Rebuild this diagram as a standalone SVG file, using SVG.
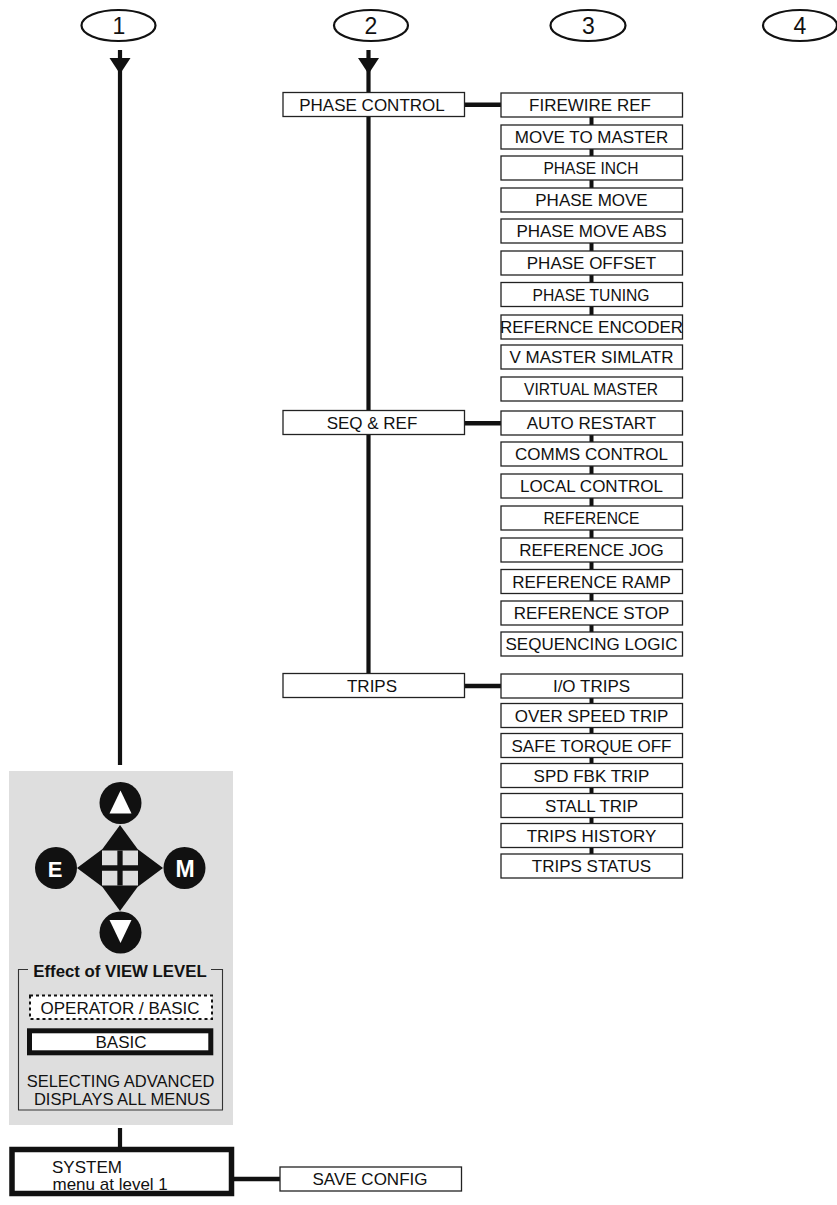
<svg xmlns="http://www.w3.org/2000/svg" xmlns:xlink="http://www.w3.org/1999/xlink" width="837" height="1205" viewBox="0 0 837 1205">
<style>
.box{fill:#fff;stroke:#222;stroke-width:1.3}
.t{font-family:"Liberation Sans",Arial,sans-serif;font-size:17px;fill:#111;text-anchor:middle}
.hd{fill:none;stroke:#111;stroke-width:2.2}
.num{font-family:"Liberation Sans",Arial,sans-serif;font-size:23px;fill:#111;text-anchor:middle}
.spine{stroke:#111;stroke-width:4.2;fill:none}
.link{stroke:#111;stroke-width:4.6;fill:none}
.small{stroke:#111;stroke-width:4;fill:none}
.key{fill:#111}
.kt{font-family:"Liberation Sans",Arial,sans-serif;font-weight:bold;fill:#fff;text-anchor:middle}
</style>
<defs>
<path id="ah" d="M-10.5,0 L10.5,0 L0,16 Z" fill="#111"/>
</defs>
<rect width="837" height="1205" fill="#fff"/>

<!-- headers -->
<g id="header1"><ellipse class="hd" cx="118.5" cy="25.5" rx="37" ry="15.5"/><text class="num" x="119" y="33.5">1</text></g>
<g id="header2"><ellipse class="hd" cx="371" cy="25.5" rx="37" ry="15.5"/><text class="num" x="371" y="33.5">2</text></g>
<g id="header3"><ellipse class="hd" cx="588" cy="25.5" rx="37.5" ry="15.5"/><text class="num" x="588.5" y="33.5">3</text></g>
<g id="header4"><ellipse class="hd" cx="800" cy="25.5" rx="37" ry="15.5"/><text class="num" x="800" y="33.5">4</text></g>

<!-- connectors -->
<g id="connectors">
  <path class="spine" d="M120,50 V765"/>
  <use xlink:href="#ah" x="120" y="58"/>
  <path class="spine" d="M368.5,50 V673.5"/>
  <use xlink:href="#ah" x="368.5" y="58"/>
  <path class="link" d="M464,104.7 H501 M464,423.3 H501 M464,686 H501 M233,1179 H280"/>
  <path class="spine" d="M120,1128 V1148"/>
  <path class="small" d="M591.5,117 V125 M591.5,149 V156 M591.5,180 V188 M591.5,243 V251 M591.5,275 V282.5 M591.5,306.5 V315 M591.5,435 V442 M591.5,466 V474 M591.5,498 V506 M591.5,530 V538 M591.5,562 V569.5 M591.5,593.5 V601 M591.5,625 V632 M591.5,698 V703.5 M591.5,727.5 V733.5 M591.5,757.5 V763.5 M591.5,787.5 V793.5 M591.5,817.5 V823.5 M591.5,847.5 V854"/>
</g>

<!-- column 2 -->
<g id="phase-control"><rect class="box" x="283" y="92.5" width="181.5" height="24"/><text class="t" x="372" y="110.8">PHASE CONTROL</text></g>
<g id="seq-ref"><rect class="box" x="283" y="410.5" width="181.5" height="24"/><text class="t" x="372" y="428.8">SEQ &amp; REF</text></g>
<g id="trips"><rect class="box" x="283" y="673.5" width="181.5" height="24"/><text class="t" x="372" y="691.8">TRIPS</text></g>

<!-- column 3 -->
<g id="firewire-ref"><rect class="box" x="501" y="93" width="181.5" height="24"/><text class="t" x="590" y="111.3">FIREWIRE REF</text></g>
<g id="move-to-master"><rect class="box" x="501" y="125" width="181.5" height="24"/><text class="t" x="591.5" y="143.3">MOVE TO MASTER</text></g>
<g id="phase-inch"><rect class="box" x="501" y="156" width="181.5" height="24"/><text class="t" x="591" y="174.3" textLength="95" lengthAdjust="spacingAndGlyphs">PHASE INCH</text></g>
<g id="phase-move"><rect class="box" x="501" y="188" width="181.5" height="24"/><text class="t" x="591.5" y="206.3">PHASE MOVE</text></g>
<g id="phase-move-abs"><rect class="box" x="501" y="219" width="181.5" height="24"/><text class="t" x="591.5" y="237.3">PHASE MOVE ABS</text></g>
<g id="phase-offset"><rect class="box" x="501" y="251" width="181.5" height="24"/><text class="t" x="591.5" y="269.3">PHASE OFFSET</text></g>
<g id="phase-tuning"><rect class="box" x="501" y="282.5" width="181.5" height="24"/><text class="t" x="591" y="300.8" textLength="117" lengthAdjust="spacingAndGlyphs">PHASE TUNING</text></g>
<g id="refernce-encoder"><rect class="box" x="501" y="315" width="181.5" height="24"/><text class="t" x="591.5" y="333.3">REFERNCE ENCODER</text></g>
<g id="v-master-simlatr"><rect class="box" x="501" y="345" width="181.5" height="24"/><text class="t" x="591.5" y="363.3">V MASTER SIMLATR</text></g>
<g id="virtual-master"><rect class="box" x="501" y="377" width="181.5" height="24"/><text class="t" x="591" y="395.3" textLength="134" lengthAdjust="spacingAndGlyphs">VIRTUAL MASTER</text></g>
<g id="auto-restart"><rect class="box" x="501" y="411" width="181.5" height="24"/><text class="t" x="591.5" y="429.3">AUTO RESTART</text></g>
<g id="comms-control"><rect class="box" x="501" y="442" width="181.5" height="24"/><text class="t" x="591.5" y="460.3">COMMS CONTROL</text></g>
<g id="local-control"><rect class="box" x="501" y="474" width="181.5" height="24"/><text class="t" x="591.5" y="492.3">LOCAL CONTROL</text></g>
<g id="reference"><rect class="box" x="501" y="506" width="181.5" height="24"/><text class="t" x="591.5" y="524.3" textLength="96" lengthAdjust="spacingAndGlyphs">REFERENCE</text></g>
<g id="reference-jog"><rect class="box" x="501" y="538" width="181.5" height="24"/><text class="t" x="591.5" y="556.3">REFERENCE JOG</text></g>
<g id="reference-ramp"><rect class="box" x="501" y="569.5" width="181.5" height="24"/><text class="t" x="591.5" y="587.8">REFERENCE RAMP</text></g>
<g id="reference-stop"><rect class="box" x="501" y="601" width="181.5" height="24"/><text class="t" x="591.5" y="619.3">REFERENCE STOP</text></g>
<g id="sequencing-logic"><rect class="box" x="501" y="632" width="181.5" height="24"/><text class="t" x="591.5" y="650.3">SEQUENCING LOGIC</text></g>
<g id="io-trips"><rect class="box" x="501" y="674" width="181.5" height="24"/><text class="t" x="591.5" y="692.3">I/O TRIPS</text></g>
<g id="over-speed-trip"><rect class="box" x="501" y="703.5" width="181.5" height="24"/><text class="t" x="591.5" y="721.8">OVER SPEED TRIP</text></g>
<g id="safe-torque-off"><rect class="box" x="501" y="733.5" width="181.5" height="24"/><text class="t" x="591.5" y="751.8">SAFE TORQUE OFF</text></g>
<g id="spd-fbk-trip"><rect class="box" x="501" y="763.5" width="181.5" height="24"/><text class="t" x="591.5" y="781.8">SPD FBK TRIP</text></g>
<g id="stall-trip"><rect class="box" x="501" y="793.5" width="181.5" height="24"/><text class="t" x="591.5" y="811.8">STALL TRIP</text></g>
<g id="trips-history"><rect class="box" x="501" y="823.5" width="181.5" height="24"/><text class="t" x="591.5" y="841.8">TRIPS HISTORY</text></g>
<g id="trips-status"><rect class="box" x="501" y="854" width="181.5" height="24"/><text class="t" x="591.5" y="872.3">TRIPS STATUS</text></g>

<!-- keypad panel -->
<g id="keypad">
  <rect x="9" y="771" width="224" height="354" fill="#dedede"/>
  <circle class="key" cx="120.5" cy="803" r="21"/>
  <polygon points="120.5,790.5 109.5,813.5 131.5,813.5" fill="#fff"/>
  <circle class="key" cx="120.5" cy="932.5" r="21"/>
  <polygon points="109.5,920 131.5,920 120.5,943" fill="#fff"/>
  <circle class="key" cx="56" cy="868" r="21"/>
  <text class="kt" x="55" y="876.5" font-size="22">E</text>
  <circle class="key" cx="184.5" cy="868" r="21"/>
  <text class="kt" x="185" y="876.5" font-size="23">M</text>
  <polygon class="key" points="120,825 139,851 101,851"/>
  <polygon class="key" points="120,911 139,885 101,885"/>
  <polygon class="key" points="77,868 102.5,849 102.5,887"/>
  <polygon class="key" points="163,868 137.5,849 137.5,887"/>
  <rect x="102" y="850.5" width="36" height="35" fill="#dedede"/>
  <path d="M120,850.5 V885.5 M102,868 H138" stroke="#111" stroke-width="5.3" fill="none"/>
</g>

<g id="view-level">
  <path d="M28,969.5 H18.5 V1110 H222.5 V969.5 H211" fill="none" stroke="#333" stroke-width="1.1"/>
  <text x="120" y="977" font-family="'Liberation Sans',Arial,sans-serif" font-size="16.8" font-weight="bold" fill="#111" text-anchor="middle">Effect of VIEW LEVEL</text>
  <rect x="30" y="995.5" width="182" height="23.5" fill="#fff" stroke="#111" stroke-width="2" stroke-dasharray="3,3"/>
  <text class="t" x="120" y="1013.8">OPERATOR / BASIC</text>
  <rect x="29.5" y="1030.8" width="181.3" height="22" fill="#fff" stroke="#111" stroke-width="5"/>
  <text class="t" x="121" y="1048.3">BASIC</text>
  <text class="t" x="120.5" y="1086.5" style="font-size:16.5px">SELECTING ADVANCED</text>
  <text class="t" x="122" y="1104.5" style="font-size:16.5px">DISPLAYS ALL MENUS</text>
</g>

<g id="system">
  <rect x="12" y="1149.5" width="219.5" height="44" fill="#fff" stroke="#111" stroke-width="5.5"/>
  <text x="52" y="1173.3" font-family="'Liberation Sans',Arial,sans-serif" font-size="17" fill="#111">SYSTEM</text>
  <text x="52.5" y="1190" font-family="'Liberation Sans',Arial,sans-serif" font-size="17" fill="#111">menu at level 1</text>
</g>
<g id="save-config"><rect class="box" x="280" y="1167" width="181.5" height="24"/><text class="t" x="370" y="1185.3">SAVE CONFIG</text></g>
</svg>
